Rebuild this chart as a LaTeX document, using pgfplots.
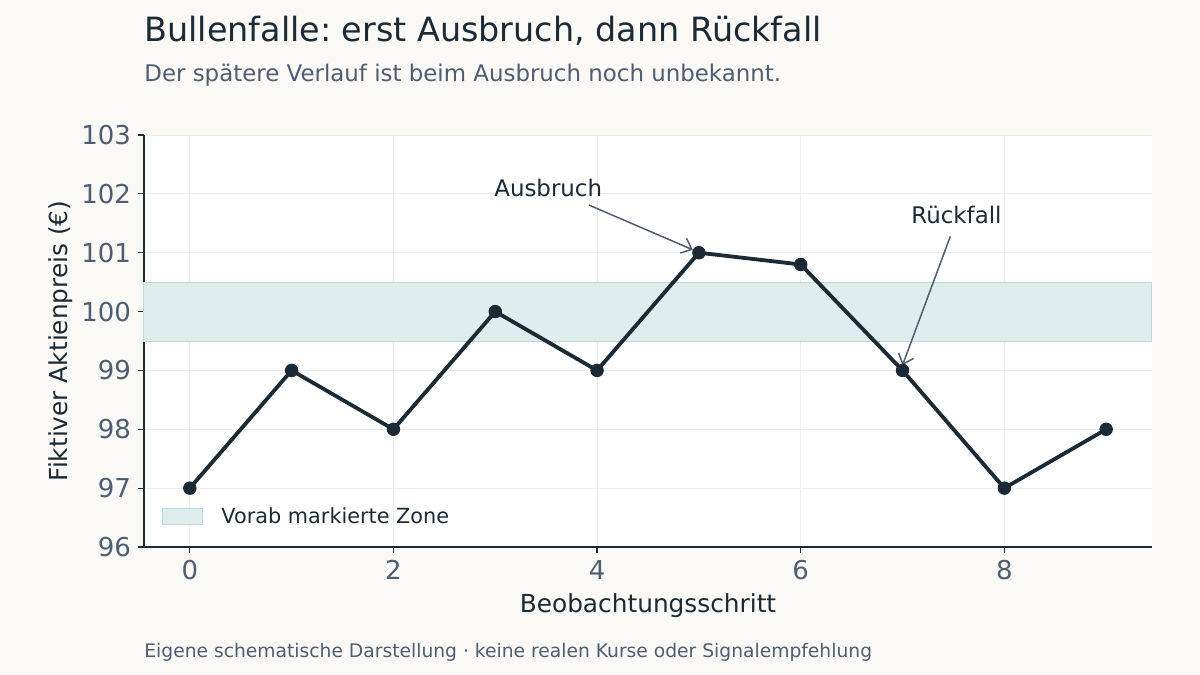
\documentclass[border=0pt]{standalone}
\usepackage{fontspec}
\setmainfont{DejaVu Sans}
\usepackage{pgfplots}
\pgfplotsset{compat=1.18}
\usetikzlibrary{arrows.meta}
\frenchspacing

\definecolor{bg}{HTML}{FAF9F5}
\definecolor{ink}{HTML}{1B2A35}
\definecolor{muted}{HTML}{4F5D73}
\definecolor{zone}{HTML}{E0EDED}
\definecolor{zoneedge}{HTML}{BCD8D8}
\definecolor{gridc}{HTML}{EDEDED}

\pgfplotsset{
  zonebox/.style={legend image code/.code={\draw[#1] (0pt,-4pt) rectangle (20pt,4pt);}},
}

\begin{document}
\begin{tikzpicture}
  % page: 1200x675 px at 0.5pt per px
  \fill[bg] (0,0) rectangle (600pt,337.5pt);
  \useasboundingbox (0,0) rectangle (600pt,337.5pt);

  \node[anchor=base west, text=ink, font=\fontsize{16.7}{20}\selectfont, inner sep=0pt]
    at (72pt,316.8pt) {Bullenfalle: erst Ausbruch, dann Rückfall};
  \node[anchor=base west, text=muted, font=\fontsize{11.45}{13}\selectfont, inner sep=0pt]
    at (72pt,296.5pt) {Der spätere Verlauf ist beim Ausbruch noch unbekannt.};
  \node[anchor=base west, text=muted, font=\fontsize{9.35}{11}\selectfont, inner sep=0pt]
    at (72pt,9pt) {Eigene schematische Darstellung · keine realen Kurse oder Signalempfehlung};

  \begin{axis}[
      at={(72pt,64pt)}, anchor=south west,
      scale only axis,
      width=504pt, height=206pt,
      xmin=-0.45, xmax=9.45,
      ymin=96, ymax=103,
      xtick={0,2,4,6,8},
      ytick={96,97,...,103},
      axis lines*=left,
      axis line style={ink, line width=0.6pt},
      tick align=outside,
      major tick length=3pt,
      tick style={ink, line width=0.6pt},
      grid=major,
      major grid style={gridc, line width=0.5pt},
      axis background/.style={fill=white},
      /pgf/number format/assume math mode=true,
      ticklabel style={text=muted, font=\fontsize{13}{15}\selectfont},
      xlabel={Beobachtungsschritt},
      ylabel={Fiktiver Aktienpreis (€)},
      label style={text=ink, font=\fontsize{12.4}{14}\selectfont},
      xlabel style={at={(axis description cs:0.5,-0.142)}, anchor=center},
      ylabel style={at={(axis description cs:-0.083,0.5)}, anchor=center},
      legend style={at={(axis description cs:0.012,0.073)}, anchor=west,
        draw=none, fill=none, font=\fontsize{10.4}{12}\selectfont, text=ink,
        column sep=7pt},
      legend cell align=left,
      clip=false,
    ]
    % pre-marked zone
    \addplot[fill=zone, draw=zoneedge, line width=0.5pt, zonebox]
      coordinates {(-0.45,99.5) (9.45,99.5) (9.45,100.5) (-0.45,100.5)} -- cycle;
    \addlegendentry{Vorab markierte Zone}

    % price path
    \addplot[ink, line width=1.9pt, mark=*, mark size=3.1pt,
      mark options={fill=ink, draw=ink, line width=0.5pt}, forget plot]
      coordinates {(0,97) (1,99) (2,98) (3,100) (4,99) (5,101) (6,100.8) (7,99) (8,97) (9,98)};

    % annotations
    \draw[muted, line width=0.75pt, -{Straight Barb[length=4.5pt,width=8pt]}]
      (axis cs:3.92,101.81) -- (axis cs:4.94,101.05);
    \node[anchor=base, text=ink, font=\fontsize{11.45}{13}\selectfont, inner sep=0pt]
      at (axis cs:3.52,101.95) {Ausbruch};
    \draw[muted, line width=0.75pt, -{Straight Barb[length=4.5pt,width=8pt]}]
      (axis cs:7.47,101.28) -- (axis cs:7.0,99.09);
    \node[anchor=base, text=ink, font=\fontsize{11.45}{13}\selectfont, inner sep=0pt]
      at (axis cs:7.53,101.50) {Rückfall};
  \end{axis}
\end{tikzpicture}
\end{document}
